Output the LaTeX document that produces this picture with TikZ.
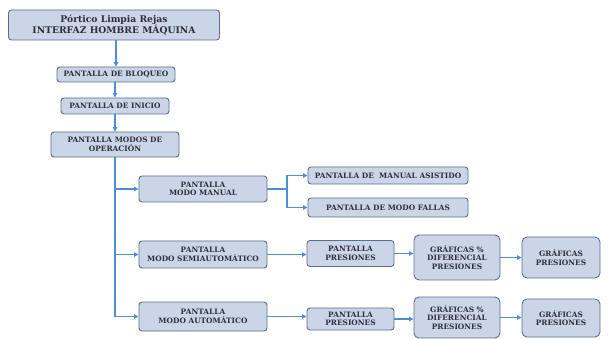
\documentclass[tikz,border=0pt]{standalone}
\usepackage{fontspec}
\setmainfont{DejaVu Serif}
\usetikzlibrary{arrows.meta}
\definecolor{boxfill}{HTML}{CAD6E8}
\definecolor{bord}{HTML}{5A6E8E}
\definecolor{arrc}{HTML}{4A8EDC}
\definecolor{txt}{HTML}{2E2E3A}
\tikzset{
  box/.style={draw=bord, fill=boxfill, rounded corners=3pt, line width=0.9pt,
    align=center, inner sep=0pt, text=txt, font=\bfseries\fontsize{7.4}{8.4}\selectfont},
  arr/.style={draw=arrc, line width=1.3pt, -{Triangle[length=4.5pt,width=4.5pt]}},
  ln/.style={draw=arrc, line width=1.3pt}
}
\begin{document}
\begin{tikzpicture}[x=1pt,y=-1pt]
\useasboundingbox (0,0) rectangle (608,339);
\node[box, minimum width=211pt, minimum height=30pt, font=\bfseries\fontsize{9.2}{11}\selectfont] (title) at (114,25) {Pórtico Limpia Rejas\\INTERFAZ HOMBRE MÁQUINA};
\node[box, minimum width=118pt, minimum height=15pt] (bloq) at (116,74.5) {PANTALLA DE BLOQUEO};
\node[box, minimum width=108pt, minimum height=16pt] (ini) at (115,106) {PANTALLA DE INICIO};
\node[box, minimum width=128pt, minimum height=25pt] (modos) at (115,144.5) {PANTALLA MODOS DE\\OPERACIÓN};
\node[box, minimum width=128pt, minimum height=26pt] (manual) at (203,189) {PANTALLA\\MODO MANUAL};
\node[box, minimum width=128pt, minimum height=27pt] (semi) at (203,254.5) {PANTALLA\\MODO SEMIAUTOMÁTICO};
\node[box, minimum width=128pt, minimum height=29pt] (auto) at (203,316.5) {PANTALLA\\MODO AUTOMÁTICO};
\node[box, minimum width=160pt, minimum height=17pt] (asist) at (388,175.5) {PANTALLA DE \ MANUAL ASISTIDO};
\node[box, minimum width=160pt, minimum height=19pt] (fallas) at (388,207.5) {PANTALLA DE MODO FALLAS};
\node[box, minimum width=87pt, minimum height=26pt] (pres1) at (350.5,253.5) {PANTALLA\\PRESIONES};
\node[box, minimum width=87pt, minimum height=22pt] (pres2) at (350.5,319) {PANTALLA\\PRESIONES};
\node[box, minimum width=86pt, minimum height=45pt, rounded corners=5pt] (g1) at (457,257.5) {GRÁFICAS \%\\DIFERENCIAL\\PRESIONES};
\node[box, minimum width=86pt, minimum height=41pt, rounded corners=5pt] (g2) at (457,317.5) {GRÁFICAS \%\\DIFERENCIAL\\PRESIONES};
\node[box, minimum width=78pt, minimum height=41pt, rounded corners=5pt] (gp1) at (561,257.5) {GRÁFICAS\\PRESIONES};
\node[box, minimum width=78pt, minimum height=38pt, rounded corners=5pt] (gp2) at (561,318) {GRÁFICAS\\PRESIONES};
\coordinate (mb) at (287,189);
\draw[arr] (title.south -| bloq.north) -- (bloq.north);
\draw[arr] (bloq.south -| ini.north) -- (ini.north);
\draw[arr] (ini.south -| modos.north) -- (modos.north);
\draw[arr] (modos.south) |- (manual.west);
\draw[arr] (modos.south) |- (semi.west);
\draw[arr] (modos.south) |- (auto.west);
\draw[ln] (manual.east) -- (mb);
\draw[arr] (mb) |- (asist.west);
\draw[arr] (mb) |- (fallas.west);
\draw[arr] (semi.east) -- (pres1.west |- semi.east);
\draw[arr] (pres1.east) -- (g1.west |- pres1.east);
\draw[arr] (g1.east) -- (gp1.west);
\draw[arr] (auto.east) -- (pres2.west |- auto.east);
\draw[arr] (pres2.east) -- (g2.west |- pres2.east);
\draw[arr] (g2.east) -- (gp2.west |- g2.east);
\end{tikzpicture}
\end{document}
